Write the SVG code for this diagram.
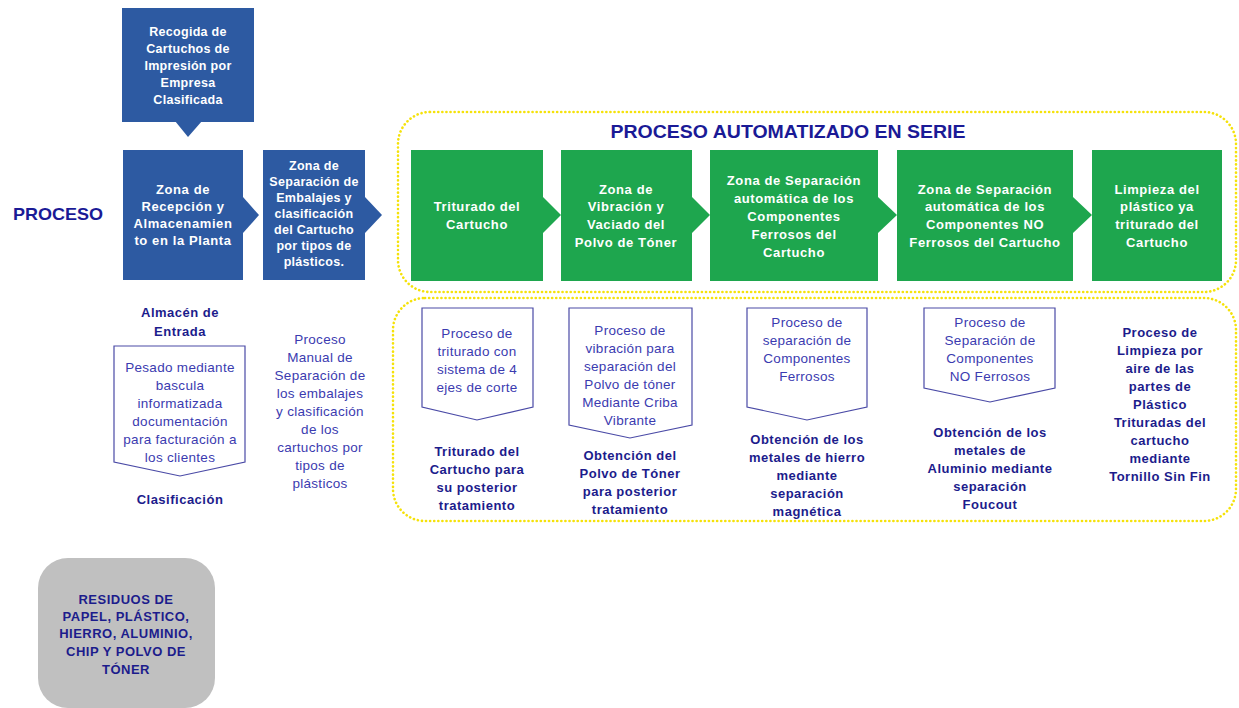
<svg xmlns="http://www.w3.org/2000/svg" width="1239" height="708" viewBox="0 0 1239 708">
<defs>
<style>
text{font-family:"Liberation Sans",Arial,sans-serif;text-anchor:middle}
.wb{fill:#ffffff;font-weight:bold;font-size:12.5px;letter-spacing:0.3px}
.wg{fill:#ffffff;font-weight:bold;font-size:13px;letter-spacing:0.6px}
.blue{fill:#2d5aa2}
.green{fill:#1ea64e}
.dot{fill:none;stroke:#f5e20a;stroke-width:2.6;stroke-dasharray:0.1 4;stroke-linecap:round}
.out{fill:#ffffff;stroke:#4a4aa6;stroke-width:1.2}
.reg{fill:#3b3bb0;font-size:13.5px;letter-spacing:0.3px}
.bld{fill:#1c1c8c;font-size:13px;font-weight:bold;letter-spacing:0.5px}
.ttl{fill:#1a1a96;font-weight:bold}
</style>
</defs>
<rect width="1239" height="708" fill="#ffffff"/>

<!-- dotted containers -->
<rect class="dot" x="398" y="112" width="838" height="180" rx="32"/>
<rect class="dot" x="393" y="298" width="843" height="223" rx="32"/>

<text class="ttl" x="58" y="220" font-size="17" textLength="90" lengthAdjust="spacingAndGlyphs">PROCESO</text>
<text class="ttl" x="788" y="138" font-size="18.5" textLength="355" lengthAdjust="spacingAndGlyphs">PROCESO AUTOMATIZADO  EN SERIE</text>

<g id="connectors">
<polygon class="blue" points="175,121 202,121 188,137"/>
<polygon class="blue" points="243,197 259,215 243,233"/>
<polygon class="blue" points="365,197 382,215 365,233"/>
<polygon class="green" points="543,197 561,215 543,233"/>
<polygon class="green" points="692,197 710,215 692,233"/>
<polygon class="green" points="878,197 897,215 878,233"/>
<polygon class="green" points="1073,197 1092,215 1073,233"/>
</g>

<g id="n-recogida">
<rect class="blue" x="122" y="8" width="132" height="114"/>
<text class="wb" x="188" y="36">Recogida de</text>
<text class="wb" x="188" y="53">Cartuchos de</text>
<text class="wb" x="188" y="70">Impresión por</text>
<text class="wb" x="188" y="87">Empresa</text>
<text class="wb" x="188" y="104">Clasificada</text>
</g>

<g id="n-recepcion">
<rect class="blue" x="123" y="150" width="120" height="130"/>
<text class="wg" x="183" y="194" letter-spacing="0.3">Zona de</text>
<text class="wg" x="183" y="211" letter-spacing="0.3">Recepción  y</text>
<text class="wg" x="183" y="228" letter-spacing="0.3">Almacenamien</text>
<text class="wg" x="183" y="245" letter-spacing="0.3">to en la Planta</text>
</g>

<g id="n-separacion-embalajes">
<rect class="blue" x="263" y="150" width="102" height="130"/>
<text class="wb" x="314" y="170" font-size="11.5">Zona de</text>
<text class="wb" x="314" y="186" font-size="11.5">Separación de</text>
<text class="wb" x="314" y="202" font-size="11.5">Embalajes y</text>
<text class="wb" x="314" y="218" font-size="11.5">clasificación</text>
<text class="wb" x="314" y="234" font-size="11.5">del Cartucho</text>
<text class="wb" x="314" y="250" font-size="11.5">por tipos  de</text>
<text class="wb" x="314" y="266" font-size="11.5">plásticos.</text>
</g>

<g id="n-triturado">
<rect class="green" x="411" y="150" width="132" height="131"/>
<text class="wg" x="477" y="211">Triturado del</text>
<text class="wg" x="477" y="229">Cartucho</text>
</g>

<g id="n-vibracion">
<rect class="green" x="561" y="150" width="131" height="131"/>
<text class="wg" x="626" y="194">Zona de</text>
<text class="wg" x="626" y="211">Vibración  y</text>
<text class="wg" x="626" y="229">Vaciado  del</text>
<text class="wg" x="626" y="247">Polvo de Tóner</text>
</g>

<g id="n-ferrosos">
<rect class="green" x="710" y="150" width="168" height="131"/>
<text class="wg" x="794" y="185">Zona de  Separación</text>
<text class="wg" x="794" y="203">automática  de los</text>
<text class="wg" x="794" y="221">Componentes</text>
<text class="wg" x="794" y="239">Ferrosos del</text>
<text class="wg" x="794" y="257">Cartucho</text>
</g>

<g id="n-noferrosos">
<rect class="green" x="897" y="150" width="176" height="131"/>
<text class="wg" x="985" y="194">Zona de  Separación</text>
<text class="wg" x="985" y="211">automática  de los</text>
<text class="wg" x="985" y="229">Componentes  NO</text>
<text class="wg" x="985" y="247">Ferrosos del Cartucho</text>
</g>

<g id="n-limpieza">
<rect class="green" x="1092" y="150" width="130" height="131"/>
<text class="wg" x="1157" y="194">Limpieza del</text>
<text class="wg" x="1157" y="211">plástico  ya</text>
<text class="wg" x="1157" y="229">triturado del</text>
<text class="wg" x="1157" y="247">Cartucho</text>
</g>

<g id="n-almacen">
<text class="bld" x="180" y="317">Almacén  de</text>
<text class="bld" x="180" y="336">Entrada</text>
<path class="out" d="M114,346 H245 V462 L180,476 L114,462 Z"/>
<text class="reg" x="180" y="372">Pesado mediante</text>
<text class="reg" x="180" y="390">bascula</text>
<text class="reg" x="180" y="408">informatizada</text>
<text class="reg" x="180" y="426">documentación</text>
<text class="reg" x="180" y="444">para facturación a</text>
<text class="reg" x="180" y="462">los clientes</text>
<text class="bld" x="180" y="504">Clasificación</text>
</g>

<g id="n-manual">
<text class="reg" x="320" y="344">Proceso</text>
<text class="reg" x="320" y="362">Manual de</text>
<text class="reg" x="320" y="380">Separación de</text>
<text class="reg" x="320" y="398">los embalajes</text>
<text class="reg" x="320" y="416">y clasificación</text>
<text class="reg" x="320" y="434">de los</text>
<text class="reg" x="320" y="452">cartuchos por</text>
<text class="reg" x="320" y="470">tipos de</text>
<text class="reg" x="320" y="488">plásticos</text>
</g>

<g id="n-p-triturado">
<path class="out" d="M422,308 H533 V407 L477,420 L422,407 Z"/>
<text class="reg" x="477" y="338">Proceso de</text>
<text class="reg" x="477" y="356">triturado con</text>
<text class="reg" x="477" y="374">sistema de 4</text>
<text class="reg" x="477" y="392">ejes de corte</text>
<text class="bld" x="477" y="456">Triturado del</text>
<text class="bld" x="477" y="474">Cartucho para</text>
<text class="bld" x="477" y="492">su posterior</text>
<text class="bld" x="477" y="510">tratamiento</text>
</g>

<g id="n-p-vibracion">
<path class="out" d="M569,308 H692 V425 L630,438 L569,425 Z"/>
<text class="reg" x="630" y="335">Proceso de</text>
<text class="reg" x="630" y="353">vibración para</text>
<text class="reg" x="630" y="371">separación del</text>
<text class="reg" x="630" y="389">Polvo de tóner</text>
<text class="reg" x="630" y="407">Mediante  Criba</text>
<text class="reg" x="630" y="425">Vibrante</text>
<text class="bld" x="630" y="460">Obtención del</text>
<text class="bld" x="630" y="478">Polvo de Tóner</text>
<text class="bld" x="630" y="496">para posterior</text>
<text class="bld" x="630" y="514">tratamiento</text>
</g>

<g id="n-p-ferrosos">
<path class="out" d="M747,308 H867 V407 L807,420 L747,407 Z"/>
<text class="reg" x="807" y="327">Proceso de</text>
<text class="reg" x="807" y="345">separación de</text>
<text class="reg" x="807" y="363">Componentes</text>
<text class="reg" x="807" y="381">Ferrosos</text>
<text class="bld" x="807" y="444">Obtención de los</text>
<text class="bld" x="807" y="462">metales de hierro</text>
<text class="bld" x="807" y="480">mediante</text>
<text class="bld" x="807" y="498">separación</text>
<text class="bld" x="807" y="516">magnética</text>
</g>

<g id="n-p-noferrosos">
<path class="out" d="M924,308 H1055 V388 L990,402 L924,388 Z"/>
<text class="reg" x="990" y="327">Proceso de</text>
<text class="reg" x="990" y="345">Separación de</text>
<text class="reg" x="990" y="363">Componentes</text>
<text class="reg" x="990" y="381">NO Ferrosos</text>
<text class="bld" x="990" y="437">Obtención de los</text>
<text class="bld" x="990" y="455">metales de</text>
<text class="bld" x="990" y="473">Aluminio  mediante</text>
<text class="bld" x="990" y="491">separación</text>
<text class="bld" x="990" y="509">Foucout</text>
</g>

<g id="n-p-limpieza">
<text class="bld" x="1160" y="337">Proceso de</text>
<text class="bld" x="1160" y="355">Limpieza por</text>
<text class="bld" x="1160" y="373">aire de las</text>
<text class="bld" x="1160" y="391">partes de</text>
<text class="bld" x="1160" y="409">Plástico</text>
<text class="bld" x="1160" y="427">Trituradas del</text>
<text class="bld" x="1160" y="445">cartucho</text>
<text class="bld" x="1160" y="463">mediante</text>
<text class="bld" x="1160" y="481">Tornillo Sin Fin</text>
</g>

<g id="n-residuos">
<rect x="38" y="558" width="177" height="150" rx="30" fill="#c0c0c0"/>
<text class="bld" x="126" y="604" font-size="12.5" letter-spacing="0.2">RESIDUOS DE</text>
<text class="bld" x="126" y="621" font-size="12.5" letter-spacing="0.2">PAPEL, PLÁSTICO,</text>
<text class="bld" x="126" y="638" font-size="12.5" letter-spacing="0.2">HIERRO, ALUMINIO,</text>
<text class="bld" x="126" y="656" font-size="12.5" letter-spacing="0.2">CHIP Y POLVO DE</text>
<text class="bld" x="126" y="674" font-size="12.5" letter-spacing="0.2">TÓNER</text>
</g>
</svg>
